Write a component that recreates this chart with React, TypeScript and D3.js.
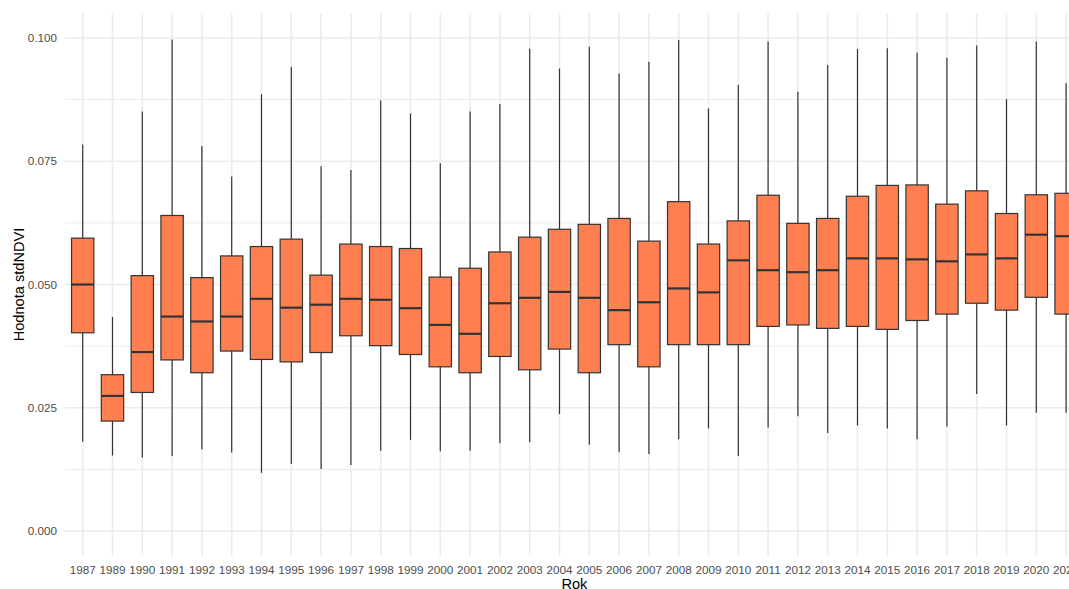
import React from "react";
import * as d3 from "d3";

const years = ["1987","1989","1990","1991","1992","1993","1994","1995","1996","1997","1998","1999","2000","2001","2002","2003","2004","2005","2006","2007","2008","2009","2010","2011","2012","2013","2014","2015","2016","2017","2018","2019","2020","2021"];
const whiskerHigh = [0.0784,0.0434,0.0851,0.0997,0.0781,0.0719,0.0886,0.0941,0.0740,0.0732,0.0873,0.0847,0.0746,0.0851,0.0866,0.0978,0.0938,0.0982,0.0928,0.0952,0.0996,0.0857,0.0905,0.0993,0.0891,0.0945,0.0978,0.0979,0.0970,0.0960,0.0985,0.0876,0.0993,0.0908];
const q3 = [0.0594,0.0317,0.0518,0.0640,0.0514,0.0558,0.0577,0.0592,0.0519,0.0582,0.0577,0.0573,0.0515,0.0533,0.0566,0.0596,0.0612,0.0622,0.0634,0.0588,0.0668,0.0582,0.0629,0.0681,0.0624,0.0634,0.0679,0.0701,0.0702,0.0663,0.0690,0.0644,0.0682,0.0685];
const medians = [0.0500,0.0274,0.0363,0.0435,0.0425,0.0435,0.0471,0.0453,0.0459,0.0471,0.0469,0.0452,0.0418,0.0400,0.0462,0.0473,0.0485,0.0473,0.0448,0.0464,0.0492,0.0484,0.0549,0.0529,0.0525,0.0529,0.0553,0.0553,0.0551,0.0547,0.0561,0.0553,0.0601,0.0598];
const q1 = [0.0402,0.0223,0.0281,0.0347,0.0321,0.0365,0.0348,0.0343,0.0362,0.0396,0.0376,0.0358,0.0333,0.0321,0.0354,0.0327,0.0369,0.0321,0.0378,0.0333,0.0378,0.0378,0.0378,0.0415,0.0418,0.0411,0.0415,0.0409,0.0427,0.0440,0.0462,0.0448,0.0474,0.0440];
const whiskerLow = [0.0181,0.0153,0.0149,0.0152,0.0166,0.0159,0.0118,0.0136,0.0126,0.0134,0.0163,0.0185,0.0162,0.0163,0.0178,0.0180,0.0237,0.0175,0.0160,0.0156,0.0186,0.0208,0.0152,0.0210,0.0233,0.0199,0.0214,0.0208,0.0186,0.0212,0.0278,0.0214,0.0240,0.0240];
const yTicks = [0, 0.025, 0.05, 0.075, 0.1];
const yMinorTicks = [0.0125, 0.0375, 0.0625, 0.0875];

const W = 1069, H = 589;
const FONT = "'Liberation Sans', Arial, Helvetica, sans-serif";

export default function App() {
  const step = 29.8;
  const x = d3.scalePoint<string>().domain(years).range([82.7, 82.7 + step * (years.length - 1)]);
  const y = d3.scaleLinear().domain([0, 0.1]).range([531, 38]);
  const panelLeft = 82.7 - 0.6 * step;
  const panelRight = 82.7 + step * (years.length - 1) + 0.6 * step;
  const panelTop = y(0.105);
  const panelBottom = y(-0.005);
  const bw = step * 0.75;
  const grid = "#EBEBEB";
  const dark = "#333333";
  return (
    <svg width={W} height={H} style={{ position: "absolute", left: 0, top: 0, background: "#fff" }}>
      <rect x={0} y={0} width={W} height={H} fill="#fff" />
      {yMinorTicks.map((t) => (
        <line key={"m" + t} x1={panelLeft} x2={panelRight} y1={y(t)} y2={y(t)} stroke={grid} strokeWidth={1} />
      ))}
      {yTicks.map((t) => (
        <line key={"g" + t} x1={panelLeft} x2={panelRight} y1={y(t)} y2={y(t)} stroke={grid} strokeWidth={1.6} />
      ))}
      {years.map((yr) => (
        <line key={"v" + yr} x1={x(yr)} x2={x(yr)} y1={panelTop} y2={panelBottom} stroke={grid} strokeWidth={1.6} />
      ))}
      {years.map((yr, i) => {
        const cx = x(yr) as number;
        return (
          <g key={"b" + yr}>
            <line x1={cx} x2={cx} y1={y(whiskerHigh[i])} y2={y(q3[i])} stroke={dark} strokeWidth={1.2} />
            <line x1={cx} x2={cx} y1={y(q1[i])} y2={y(whiskerLow[i])} stroke={dark} strokeWidth={1.2} />
            <rect x={cx - bw / 2} y={y(q3[i])} width={bw} height={y(q1[i]) - y(q3[i])} fill="#FF7F50" stroke={dark} strokeWidth={1.2} />
            <line x1={cx - bw / 2} x2={cx + bw / 2} y1={y(medians[i])} y2={y(medians[i])} stroke={dark} strokeWidth={2.2} />
          </g>
        );
      })}
      {yTicks.map((t) => (
        <text key={"yt" + t} x={57} y={y(t)} dy="0.35em" textAnchor="end" fontFamily={FONT} fontSize={11.7} fill="#4D4D4D">
          {d3.format(".3f")(t)}
        </text>
      ))}
      {years.map((yr) => (
        <text key={"xt" + yr} x={x(yr)} y={573.5} textAnchor="middle" fontFamily={FONT} fontSize={11.7} fill="#4D4D4D">
          {yr}
        </text>
      ))}
      <text x={(panelLeft + panelRight) / 2} y={589} textAnchor="middle" fontFamily={FONT} fontSize={14.6} fill="#000">
        Rok
      </text>
      <text transform={`translate(23.5, ${(panelTop + panelBottom) / 2}) rotate(-90)`} textAnchor="middle" fontFamily={FONT} fontSize={14.6} fill="#000">
        Hodnota stdNDVI
      </text>
    </svg>
  );
}
